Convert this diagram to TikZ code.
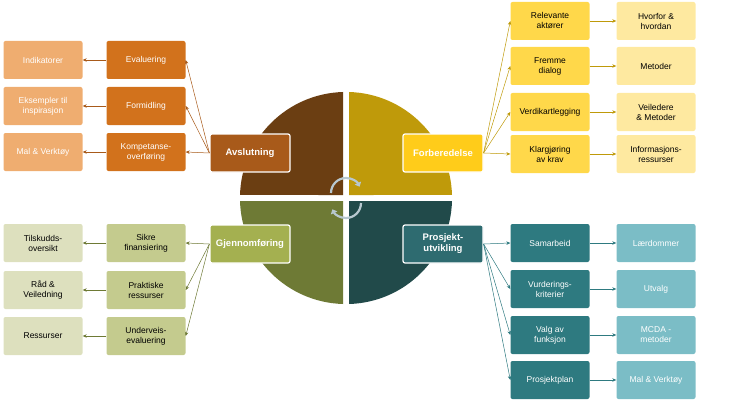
\documentclass[tikz,border=0pt]{standalone}
\usepackage{fontspec}
\setmainfont{Liberation Sans}
\usetikzlibrary{arrows.meta}
\definecolor{cTL}{HTML}{6B3E12}\definecolor{cTR}{HTML}{BF9A0A}
\definecolor{cBL}{HTML}{6E7A35}\definecolor{cBR}{HTML}{214A4A}
\definecolor{oM}{HTML}{A85A1A}\definecolor{oS}{HTML}{D2721C}\definecolor{oF}{HTML}{EFAD70}
\definecolor{yM}{HTML}{FFCC1A}\definecolor{yS}{HTML}{FFD84A}\definecolor{yF}{HTML}{FEE9A0}
\definecolor{gM}{HTML}{A4B050}\definecolor{gS}{HTML}{C4CB8E}\definecolor{gF}{HTML}{DDE0BE}
\definecolor{tM}{HTML}{2E6B70}\definecolor{tS}{HTML}{2E7A80}\definecolor{tF}{HTML}{7BBDC6}
\definecolor{arr}{HTML}{B8C8D0}
\tikzset{
 bx/.style={rounded corners=2pt,minimum width=79pt,minimum height=38pt,align=center,font=\fontsize{8.5}{10}\selectfont,inner sep=1pt},
 mb/.style={bx,draw=white,line width=1.2pt,text=white,font=\bfseries\fontsize{9.5}{11}\selectfont,minimum width=80pt},
 ln/.style={-{Stealth[length=4pt,width=3.5pt]},line width=0.5pt},
}
\begin{document}
\begin{tikzpicture}[x=1pt,y=-1pt]
\useasboundingbox (0,0) rectangle (730,401);
% circle quadrants
\def\R{106}
\fill[cTL] (343,195) -- (343,92) arc[start angle=-91.6,end angle=-178.4,radius=\R] -- cycle;
\fill[cTR] (349,195) -- (349,92) arc[start angle=-88.4,end angle=-1.6,radius=\R] -- cycle;
\fill[cBL] (343,201) -- (343,304) arc[start angle=91.6,end angle=178.4,radius=\R] -- cycle;
\fill[cBR] (349,201) -- (349,304) arc[start angle=88.4,end angle=1.6,radius=\R] -- cycle;
% center arrows
\draw[arr,line width=2.2pt,-{Triangle[length=4pt,width=7pt]}] (331,193) arc[start angle=180,end angle=335,radius=15];
\draw[arr,line width=2.2pt,-{Triangle[length=4pt,width=7pt]}] (361,203) arc[start angle=0,end angle=155,radius=15];
% main boxes
\node[mb,fill=oM] (av) at (250,153) {Avslutning};
\node[mb,fill=yM] (fo) at (443,153) {Forberedelse};
\node[mb,fill=gM] (gj) at (250,244) {Gjennomføring};
\node[mb,fill=tM] (pr) at (443,244) {Prosjekt-\\utvikling};
% top-left
\node[bx,fill=oS,text=white] (o1) at (146,60) {Evaluering};
\node[bx,fill=oS,text=white] (o2) at (146,106) {Formidling};
\node[bx,fill=oS,text=white] (o3) at (146,152) {Kompetanse-\\overføring};
\node[bx,fill=oF,text=white] (of1) at (43,60) {Indikatorer};
\node[bx,fill=oF,text=white] (of2) at (43,106) {Eksempler til\\inspirasjon};
\node[bx,fill=oF,text=white] (of3) at (43,152) {Mal \& Verktøy};
% bottom-left
\node[bx,fill=gS] (g1) at (146,243) {Sikre\\finansiering};
\node[bx,fill=gS] (g2) at (146,290) {Praktiske\\ressurser};
\node[bx,fill=gS] (g3) at (146,336) {Underveis-\\evaluering};
\node[bx,fill=gF] (gf1) at (43,243) {Tilskudds-\\oversikt};
\node[bx,fill=gF] (gf2) at (43,290) {Råd \&\\Veiledning};
\node[bx,fill=gF] (gf3) at (43,336) {Ressurser};
% top-right
\node[bx,fill=yS] (y1) at (550,21) {Relevante\\aktører};
\node[bx,fill=yS] (y2) at (550,66) {Fremme\\dialog};
\node[bx,fill=yS] (y3) at (550,112) {Verdikartlegging};
\node[bx,fill=yS] (y4) at (550,154) {Klargjøring\\av krav};
\node[bx,fill=yF] (yf1) at (656,21) {Hvorfor \&\\hvordan};
\node[bx,fill=yF] (yf2) at (656,66) {Metoder};
\node[bx,fill=yF] (yf3) at (656,112) {Veiledere\\\& Metoder};
\node[bx,fill=yF] (yf4) at (656,154) {Informasjons-\\ressurser};
% bottom-right
\node[bx,fill=tS,text=white] (t1) at (550,243) {Samarbeid};
\node[bx,fill=tS,text=white] (t2) at (550,289) {Vurderings-\\kriterier};
\node[bx,fill=tS,text=white] (t3) at (550,335) {Valg av\\funksjon};
\node[bx,fill=tS,text=white] (t4) at (550,380) {Prosjektplan};
\node[bx,fill=tF,text=white] (tf1) at (656,243) {Lærdommer};
\node[bx,fill=tF,text=white] (tf2) at (656,289) {Utvalg};
\node[bx,fill=tF,text=white] (tf3) at (656,335) {MCDA -\\metoder};
\node[bx,fill=tF,text=white] (tf4) at (656,380) {Mal \& Verktøy};
% connectors
\foreach \s in {o1,o2,o3} \draw[ln,color=oM] (av.west) -- (\s.east);
\foreach \a/\b in {o1/of1,o2/of2,o3/of3} \draw[ln,color=oM] (\a) -- (\b);
\foreach \s in {g1,g2,g3} \draw[ln,color=cBL] (gj.west) -- (\s.east);
\foreach \a/\b in {g1/gf1,g2/gf2,g3/gf3} \draw[ln,color=cBL] (\a) -- (\b);
\foreach \s in {y1,y2,y3,y4} \draw[ln,color=cTR] (fo.east) -- (\s.west);
\foreach \a/\b in {y1/yf1,y2/yf2,y3/yf3,y4/yf4} \draw[ln,color=cTR] (\a) -- (\b);
\foreach \s in {t1,t2,t3,t4} \draw[ln,color=tS] (pr.east) -- (\s.west);
\foreach \a/\b in {t1/tf1,t2/tf2,t3/tf3,t4/tf4} \draw[ln,color=tS] (\a) -- (\b);
\end{tikzpicture}
\end{document}
